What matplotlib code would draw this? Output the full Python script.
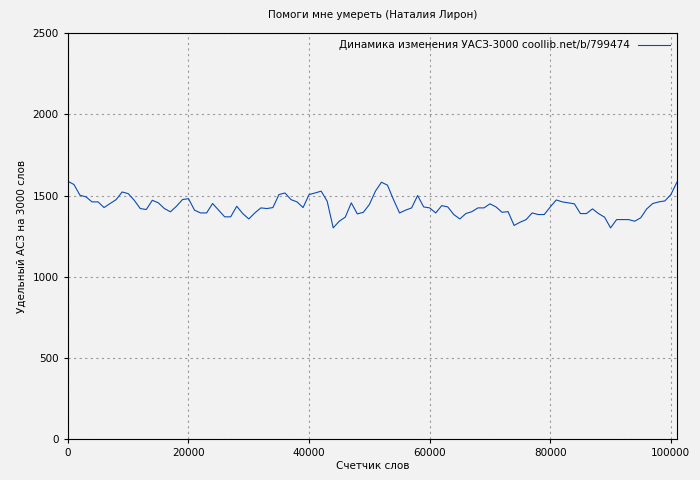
import numpy as np
import matplotlib
matplotlib.use('Agg')
import matplotlib.pyplot as plt

# values, one point every 1000 words
asz = [1588, 1568, 1502, 1492, 1461, 1461, 1426, 1451, 1475, 1522,
       1512, 1471, 1420, 1414, 1471, 1455, 1420, 1400, 1434, 1475,
       1481, 1410, 1393, 1393, 1451, 1410, 1369, 1369, 1434, 1389,
       1356, 1393, 1424, 1420, 1426, 1506, 1516, 1475, 1461, 1426,
       1506, 1516, 1527, 1465, 1301, 1342, 1367, 1455, 1387, 1397,
       1445, 1527, 1582, 1564, 1475, 1393, 1410, 1424, 1500, 1430,
       1424, 1393, 1438, 1430, 1383, 1356, 1389, 1401, 1424, 1424,
       1449, 1430, 1397, 1401, 1316, 1336, 1352, 1393, 1383, 1383,
       1430, 1473, 1461, 1455, 1449, 1389, 1389, 1418, 1389, 1367,
       1301, 1352, 1352, 1352, 1342, 1363, 1418, 1451, 1461, 1467,
       1506, 1582]
words = np.arange(len(asz)) * 1000

bg = '#f2f2f2'
fs = 7.5
fig = plt.figure(figsize=(7, 4.8), dpi=100, facecolor=bg)
ax = fig.add_axes([0.097, 0.085, 0.87, 0.846], facecolor=bg)

ax.plot(words, asz, color='#0a4bb4', linewidth=0.8,
        label='Динамика изменения УАСЗ-3000 coollib.net/b/799474')

ax.set_xlim(0, 101000)
ax.set_ylim(0, 2500)
ax.set_xticks(np.arange(0, 100001, 20000))
ax.set_yticks(np.arange(0, 2501, 500))
ax.grid(True, color='#999999', linestyle=(0, (2, 3)), linewidth=0.8)
ax.tick_params(labelsize=fs, length=3)
for s in ax.spines.values():
    s.set_color('black')

ax.set_title('Помоги мне умереть (Наталия Лирон)', fontsize=fs, pad=11)
ax.set_xlabel('Счетчик слов', fontsize=fs, labelpad=2)
ax.set_ylabel('Удельный АСЗ на 3000 слов', fontsize=fs)

leg = ax.legend(loc='upper right', frameon=False, fontsize=fs,
                markerfirst=False, handlelength=3, borderaxespad=0.3)

fig.savefig('out.png', facecolor=bg)
